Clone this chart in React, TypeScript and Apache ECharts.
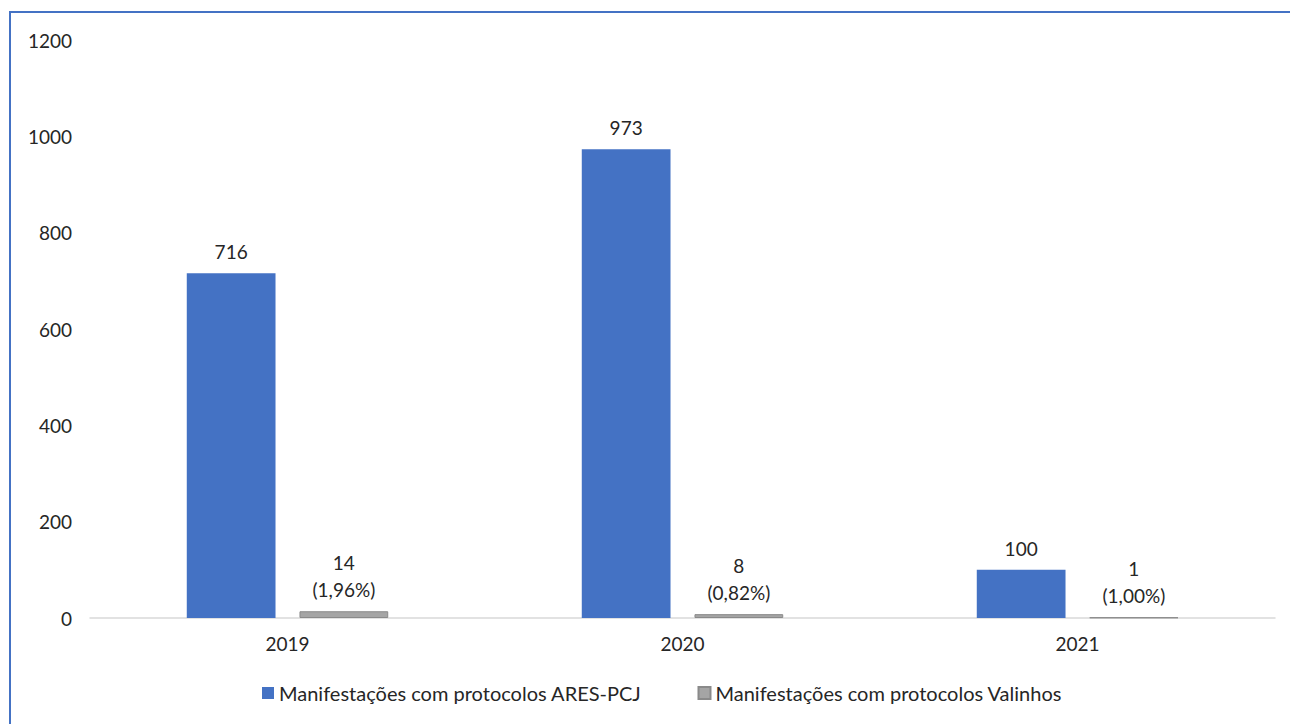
import React, { useEffect, useRef } from "react";
import * as echarts from "echarts";

const categories = ["2019", "2020", "2021"];
const aresValues = [716, 973, 100];
const valinhosValues = [14, 8, 1];
const valinhosPct = ["1,96%", "0,82%", "1,00%"];
const yTicks = { min: 0, max: 1200, interval: 200 };
const seriesNames = [
  "Manifestações com protocolos ARES-PCJ",
  "Manifestações com protocolos Valinhos",
];

const FONT = "Lato";
const TXT = "#262626";

export default function App() {
  const ref = useRef<HTMLDivElement>(null);
  useEffect(() => {
    if (!ref.current) return;
    const chart = echarts.init(ref.current, undefined, { renderer: "svg" });
    chart.setOption({
      animation: false,
      backgroundColor: "#ffffff",
      textStyle: { fontFamily: FONT },
      graphic: [
        {
          type: "rect",
          shape: { x: 10, y: 12, width: 1300, height: 740 },
          style: { fill: "none", stroke: "#4472C4", lineWidth: 2 },
          silent: true,
        },
      ],
      grid: { left: 90, right: 15, top: 40, bottom: 106, containLabel: false },
      legend: {
        bottom: 16,
        left: 257,
        itemWidth: 12,
        itemHeight: 12,
        itemGap: 56,
        icon: "rect",
        textStyle: { fontFamily: FONT, fontSize: 20, color: TXT },
        data: seriesNames,
      },
      xAxis: {
        type: "category",
        data: categories,
        axisLine: { lineStyle: { color: "#d9d9d9", width: 1.5 } },
        axisTick: { show: false },
        axisLabel: { fontFamily: FONT, fontSize: 19, color: TXT, margin: 16 },
      },
      yAxis: {
        type: "value",
        min: yTicks.min,
        max: yTicks.max,
        interval: yTicks.interval,
        axisLine: { show: false },
        axisTick: { show: false },
        splitLine: { show: false },
        axisLabel: {
          fontFamily: FONT,
          fontSize: 19,
          color: TXT,
          margin: 18,
          formatter: (v: number) => String(v),
        },
      },
      series: [
        {
          name: seriesNames[0],
          type: "bar",
          data: aresValues,
          barGap: "27%",
          barCategoryGap: "49%",
          itemStyle: { color: "#4472C4" },
          label: {
            show: true,
            position: "top",
            distance: 12,
            fontFamily: FONT,
            fontSize: 19,
            color: TXT,
          },
        },
        {
          name: seriesNames[1],
          type: "bar",
          data: valinhosValues,
          itemStyle: { color: "#A5A5A5", borderColor: "#8a8a8a", borderWidth: 1 },
          label: {
            show: true,
            position: "top",
            distance: 8,
            fontFamily: FONT,
            fontSize: 19,
            lineHeight: 27,
            color: TXT,
            formatter: (p: any) => `${p.value}\n(${valinhosPct[p.dataIndex]})`,
          },
        },
      ],
    });
    return () => chart.dispose();
  }, []);
  return (
    <div
      ref={ref}
      style={{ position: "absolute", left: 0, top: 0, width: 1290, height: 724 }}
    />
  );
}
